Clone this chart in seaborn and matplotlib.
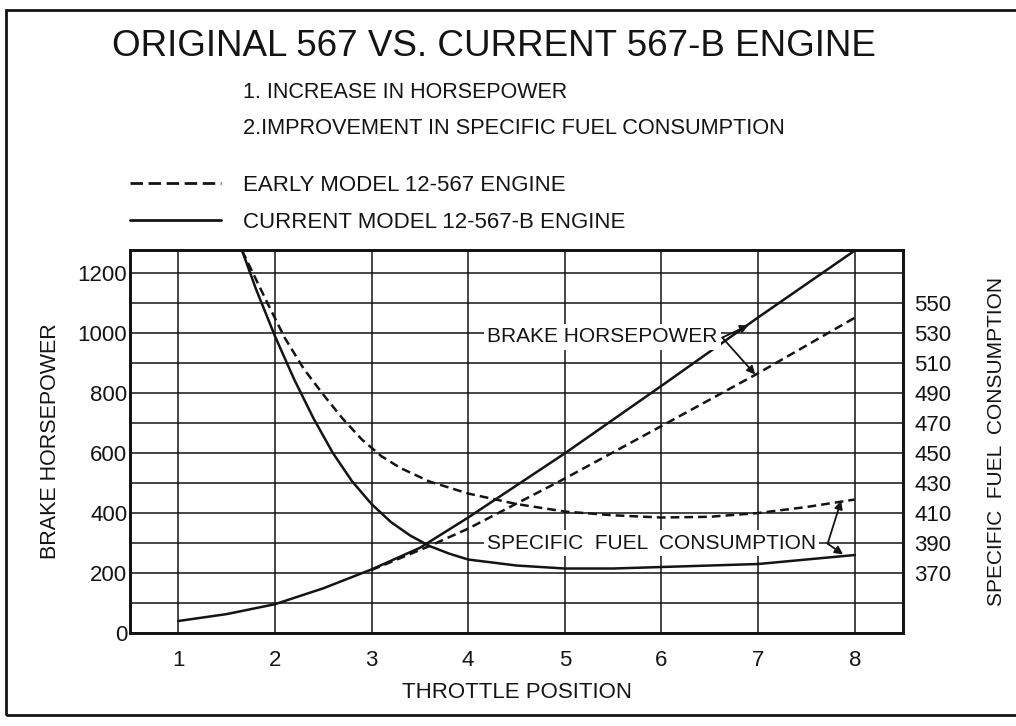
import matplotlib
matplotlib.use('Agg')
import matplotlib.pyplot as plt
from matplotlib.lines import Line2D
from matplotlib.patches import Rectangle
import seaborn as sns

# throttle position vs brake horsepower
bhp_current_x = [1, 1.5, 2, 2.5, 3, 3.5, 4, 5, 6, 7, 8]
bhp_current_y = [40, 63, 96, 149, 212, 284, 385, 599, 824, 1052, 1275]
bhp_early_x = [3, 3.6, 4, 5, 6, 7, 8]
bhp_early_y = [210, 290, 348, 515, 690, 866, 1051]

# throttle position vs specific fuel consumption
sfc_current_x = [1.66, 1.8, 2.0, 2.2, 2.4, 2.6, 2.8, 3.0, 3.2, 3.4, 3.6, 3.8,
                 4.0, 4.5, 5.0, 5.5, 6.0, 7.0, 8.0]
sfc_current_y = [585, 560, 528, 499, 473, 450, 431, 416, 404, 395, 388, 383,
                 379, 375, 373, 373, 374, 376, 382]
sfc_early_x = [1.66, 1.9, 2.1, 2.3, 2.5, 2.7, 2.9, 3.1, 3.3, 3.6, 4.0,
               4.5, 5.0, 5.5, 6.0, 6.5, 7.0, 7.5, 8.0]
sfc_early_y = [585, 553, 527, 506, 489, 473, 459, 448, 440, 431, 423,
               416, 411, 408.5, 407, 407.5, 410, 414, 419]

throttle_ticks = [1, 2, 3, 4, 5, 6, 7, 8]
bhp_ticks = [0, 200, 400, 600, 800, 1000, 1200]
sfc_ticks = [370, 390, 410, 430, 450, 470, 490, 510, 530, 550]

ink = '#141414'
sns.set_style('white')
plt.rcParams['font.family'] = ['Liberation Sans', 'DejaVu Sans']

fig = plt.figure(figsize=(10.16, 7.26), dpi=100)
fig.patch.set_facecolor('white')
ax = fig.add_axes([130 / 1016, 93 / 726, 773 / 1016, 383 / 726])
ax2 = ax.twinx()

dash = (0, (3.5, 2))
sns.lineplot(x=bhp_current_x, y=bhp_current_y, ax=ax, color=ink, lw=1.8, sort=False)
sns.lineplot(x=bhp_early_x, y=bhp_early_y, ax=ax, color=ink, lw=1.8, sort=False, linestyle=dash)
sns.lineplot(x=sfc_current_x, y=sfc_current_y, ax=ax2, color=ink, lw=1.8, sort=False)
sns.lineplot(x=sfc_early_x, y=sfc_early_y, ax=ax2, color=ink, lw=1.8, sort=False, linestyle=dash)

ax.set_xlim(0.5, 8.5)
ax.set_ylim(0, 1277)
ax2.set_ylim(330, 330 + 1277 / 5)

ax.set_xticks(throttle_ticks)
ax.set_yticks(bhp_ticks)
ax.set_yticks(range(100, 1300, 200), minor=True)
ax2.set_yticks(sfc_ticks)
ax.grid(True, which='both', axis='y', color=ink, lw=1.1)
ax.grid(True, which='major', axis='x', color=ink, lw=1.1)
ax.set_axisbelow(True)
ax2.grid(False)

ax.tick_params(axis='x', length=0, pad=12, labelsize=16, colors=ink)
ax.tick_params(axis='y', which='both', length=0, pad=2, labelsize=16, colors=ink)
ax2.tick_params(axis='y', length=0, pad=8, labelsize=16, colors=ink)
for a in (ax, ax2):
    for s in a.spines.values():
        s.set_color(ink)
        s.set_linewidth(2.0)

ax.set_xlabel('THROTTLE POSITION', fontsize=16, color=ink, labelpad=8)
ax.set_ylabel('BRAKE HORSEPOWER', fontsize=15.5, color=ink, labelpad=12)
ax2.set_ylabel('SPECIFIC  FUEL  CONSUMPTION', fontsize=15, color=ink, labelpad=26)

# annotations with leader arrows
box = dict(boxstyle='square,pad=0.15', fc='white', ec='none')
arr = dict(arrowstyle='-|>', color=ink, lw=1.3, mutation_scale=12, shrinkA=0, shrinkB=0)
ax.text(6.58, 987, 'BRAKE HORSEPOWER', ha='right', va='center', fontsize=15, color=ink, bbox=box)
ax.annotate('', xy=(6.9, 1026), xytext=(6.63, 985), arrowprops=arr)
ax.annotate('', xy=(6.97, 862), xytext=(6.63, 985), arrowprops=arr)

ax.text(7.6, 300, 'SPECIFIC  FUEL  CONSUMPTION', ha='right', va='center', fontsize=15,
        color=ink, bbox=box)
ax.annotate('', xy=(7.86, 441), xytext=(7.72, 298), arrowprops=arr)
ax.annotate('', xy=(7.88, 262), xytext=(7.72, 298), arrowprops=arr)

# headings
fig.text(112 / 1016, 1 - 46 / 726, 'ORIGINAL 567 VS. CURRENT 567-B ENGINE', ha='left', va='center',
         fontsize=26.5, color=ink)
fig.text(243 / 1016, 1 - 92 / 726, '1. INCREASE IN HORSEPOWER', ha='left', va='center',
         fontsize=15.5, color=ink)
fig.text(243 / 1016, 1 - 128 / 726, '2.IMPROVEMENT IN SPECIFIC FUEL CONSUMPTION', ha='left', va='center',
         fontsize=15.7, color=ink)

handles = [Line2D([], [], color=ink, lw=2.0, linestyle=(0, (4.5, 2))),
           Line2D([], [], color=ink, lw=2.0)]
labels = ['EARLY MODEL 12-567 ENGINE', 'CURRENT MODEL 12-567-B ENGINE']
fig.legend(handles, labels, loc='upper left', bbox_to_anchor=(130 / 1016, 1 - 175 / 726),
           frameon=False, fontsize=16, handlelength=4.1, handletextpad=1.0,
           labelspacing=0.7, borderpad=0, borderaxespad=0, labelcolor=ink)

fig.patches.append(Rectangle((6 / 1016, 11 / 726), 1.2, 1 - 21 / 726, transform=fig.transFigure,
                             fill=False, ec=ink, lw=2.0))

plt.savefig('out.png', dpi=100, facecolor='white')
